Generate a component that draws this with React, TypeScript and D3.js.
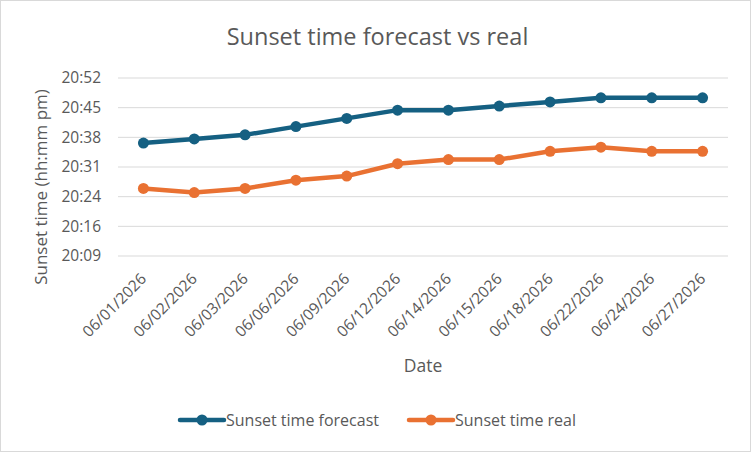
import { useEffect, useRef } from "react";
import * as d3 from "d3";

const DATES = [
  "06/01/2026", "06/02/2026", "06/03/2026", "06/06/2026", "06/09/2026", "06/12/2026",
  "06/14/2026", "06/15/2026", "06/18/2026", "06/22/2026", "06/24/2026", "06/27/2026",
];
// minutes after 20:00
const FORECAST = [37, 38, 39, 41, 43, 45, 45, 46, 47, 48, 48, 48];
const REAL = [26, 25, 26, 28, 29, 32, 33, 33, 35, 36, 35, 35];
// Excel axis ticks in day fractions (0.84 .. 0.87 step 0.005)
const TICKS = [0.84, 0.845, 0.85, 0.855, 0.86, 0.865, 0.87];

const SERIES = [
  { name: "Sunset time forecast", color: "#156082", values: FORECAST },
  { name: "Sunset time real", color: "#E97132", values: REAL },
];

const W = 751, H = 452;
const FONT = "'Open Sans', 'Noto Sans', sans-serif";
const GRAY = "#595959";

function fmt(day: number) {
  const totalMin = day * 24 * 60;
  const h = Math.floor(totalMin / 60);
  const m = Math.floor(totalMin - h * 60 + 1e-6);
  return `${h}:${String(m).padStart(2, "0")}`;
}

export default function App() {
  const svgRef = useRef<SVGSVGElement>(null);

  useEffect(() => {
    document.body.style.margin = "0";
    const svg = d3.select(svgRef.current).attr("width", W).attr("height", H);
    svg.selectAll("*").remove();

    const mg = { l: 118, r: 23, t: 78, b: 196 };
    const IW = W - mg.l - mg.r, IH = H - mg.t - mg.b;

    svg.append("rect").attr("x", 0.5).attr("y", 0.5).attr("width", W - 1).attr("height", H - 1)
      .attr("fill", "white").attr("stroke", "#d9d9d9");

    svg.append("text").attr("x", W / 2 + 2).attr("y", 45).attr("text-anchor", "middle")
      .attr("fill", GRAY).attr("font-family", FONT).attr("font-size", 23.5).text("Sunset time forecast vs real");

    const x = d3.scaleBand().domain(DATES).range([0, IW]);
    const y = d3.scaleLinear().domain([0.84, 0.87]).range([IH, 0]);
    const toDay = (m: number) => (20 * 60 + m) / 1440;

    const root = svg.append("g").attr("transform", `translate(${mg.l},${mg.t})`);

    TICKS.forEach(t => {
      root.append("line").attr("x1", 0).attr("x2", IW).attr("y1", y(t)).attr("y2", y(t))
        .attr("stroke", "#d9d9d9").attr("stroke-width", 1);
    });

    root.append("g").call(d3.axisLeft(y).tickValues(TICKS).tickFormat(v => fmt(+v)).tickSize(0).tickPadding(17))
      .call(g => {
        g.select(".domain").remove();
        g.selectAll("text").attr("fill", GRAY).attr("font-size", 15.5).attr("font-family", FONT);
      });

    root.append("g").attr("transform", `translate(0,${IH})`)
      .call(d3.axisBottom(x).tickSize(0).tickPadding(0))
      .call(g => {
        g.select(".domain").remove();
        g.selectAll("text").attr("fill", GRAY).attr("font-size", 15.5).attr("font-family", FONT)
          .attr("text-anchor", "end").attr("dy", "0.35em")
          .attr("transform", "translate(0,20) rotate(-45)");
      });

    root.append("text").attr("x", IW / 2).attr("y", 294).attr("text-anchor", "middle")
      .attr("fill", GRAY).attr("font-family", FONT).attr("font-size", 17.5).text("Date");
    svg.append("text").attr("transform", `translate(47,187) rotate(-90)`).attr("text-anchor", "middle")
      .attr("fill", GRAY).attr("font-family", FONT).attr("font-size", 17).text("Sunset time (hh:mm pm)");

    const cx = (d: string) => (x(d) ?? 0) + x.bandwidth() / 2;
    SERIES.forEach(s => {
      const pts = s.values.map((v, i) => [cx(DATES[i]), y(toDay(v))] as [number, number]);
      root.append("path").attr("d", d3.line()(pts)).attr("fill", "none")
        .attr("stroke", s.color).attr("stroke-width", 4.5).attr("stroke-linejoin", "round").attr("stroke-linecap", "round");
      root.selectAll(null).data(pts).enter().append("circle")
        .attr("cx", d => d[0]).attr("cy", d => d[1]).attr("r", 5.5).attr("fill", s.color);
    });

    // legend
    const lg = svg.append("g").attr("transform", "translate(0,420)");
    [180, 409].forEach((lx, i) => {
      const s = SERIES[i];
      lg.append("line").attr("x1", lx).attr("x2", lx + 44).attr("y1", 0).attr("y2", 0)
        .attr("stroke", s.color).attr("stroke-width", 4.5).attr("stroke-linecap", "round");
      lg.append("circle").attr("cx", lx + 22).attr("cy", 0).attr("r", 5.5).attr("fill", s.color);
      lg.append("text").attr("x", lx + 46).attr("y", 0).attr("dy", "0.35em")
        .attr("fill", GRAY).attr("font-family", FONT).attr("font-size", 16).text(s.name);
    });
  }, []);

  return <svg ref={svgRef} style={{ display: "block" }} />;
}
